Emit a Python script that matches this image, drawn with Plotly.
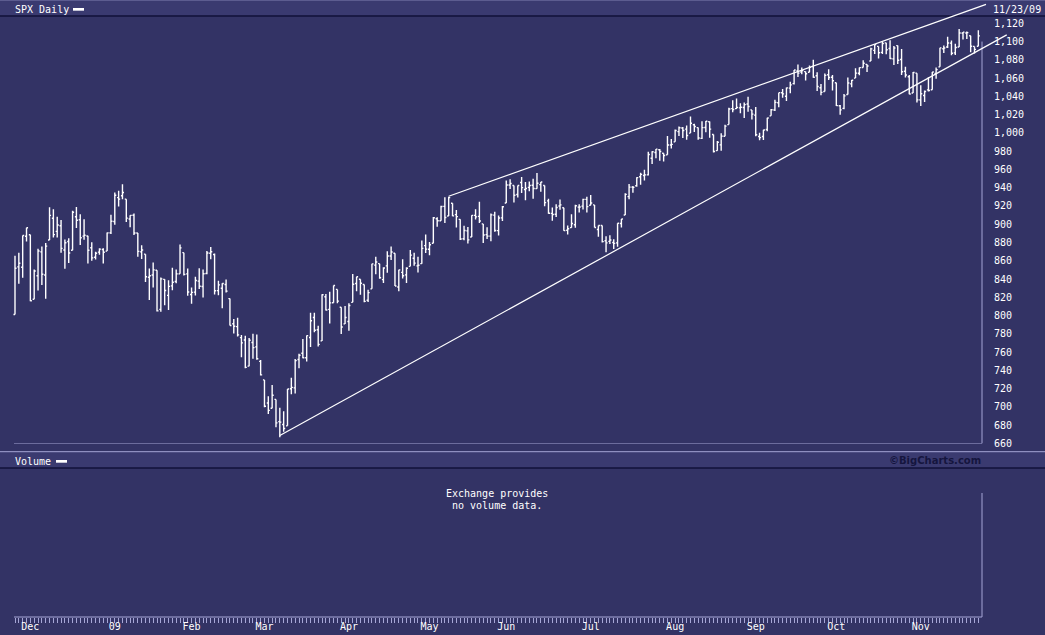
import plotly.graph_objects as go

# SPX daily bars, Nov 24 2008 .. Nov 23 2009
dates = [
    "2008-11-24", "2008-11-25", "2008-11-26", "2008-11-28",
    "2008-12-01", "2008-12-02", "2008-12-03", "2008-12-04", "2008-12-05", "2008-12-08", "2008-12-09",
    "2008-12-10", "2008-12-11", "2008-12-12", "2008-12-15", "2008-12-16", "2008-12-17", "2008-12-18",
    "2008-12-19", "2008-12-22", "2008-12-23", "2008-12-24", "2008-12-26", "2008-12-29", "2008-12-30",
    "2008-12-31",
    "2009-01-02", "2009-01-05", "2009-01-06", "2009-01-07", "2009-01-08", "2009-01-09", "2009-01-12",
    "2009-01-13", "2009-01-14", "2009-01-15", "2009-01-16", "2009-01-20", "2009-01-21", "2009-01-22",
    "2009-01-23", "2009-01-26", "2009-01-27", "2009-01-28", "2009-01-29", "2009-01-30",
    "2009-02-02", "2009-02-03", "2009-02-04", "2009-02-05", "2009-02-06", "2009-02-09", "2009-02-10",
    "2009-02-11", "2009-02-12", "2009-02-13", "2009-02-17", "2009-02-18", "2009-02-19", "2009-02-20",
    "2009-02-23", "2009-02-24", "2009-02-25", "2009-02-26", "2009-02-27",
    "2009-03-02", "2009-03-03", "2009-03-04", "2009-03-05", "2009-03-06", "2009-03-09", "2009-03-10",
    "2009-03-11", "2009-03-12", "2009-03-13", "2009-03-16", "2009-03-17", "2009-03-18", "2009-03-19",
    "2009-03-20", "2009-03-23", "2009-03-24", "2009-03-25", "2009-03-26", "2009-03-27", "2009-03-30",
    "2009-03-31",
    "2009-04-01", "2009-04-02", "2009-04-03", "2009-04-06", "2009-04-07", "2009-04-08", "2009-04-09",
    "2009-04-13", "2009-04-14", "2009-04-15", "2009-04-16", "2009-04-17", "2009-04-20", "2009-04-21",
    "2009-04-22", "2009-04-23", "2009-04-24", "2009-04-27", "2009-04-28", "2009-04-29", "2009-04-30",
    "2009-05-01", "2009-05-04", "2009-05-05", "2009-05-06", "2009-05-07", "2009-05-08", "2009-05-11",
    "2009-05-12", "2009-05-13", "2009-05-14", "2009-05-15", "2009-05-18", "2009-05-19", "2009-05-20",
    "2009-05-21", "2009-05-22", "2009-05-26", "2009-05-27", "2009-05-28", "2009-05-29",
    "2009-06-01", "2009-06-02", "2009-06-03", "2009-06-04", "2009-06-05", "2009-06-08", "2009-06-09",
    "2009-06-10", "2009-06-11", "2009-06-12", "2009-06-15", "2009-06-16", "2009-06-17", "2009-06-18",
    "2009-06-19", "2009-06-22", "2009-06-23", "2009-06-24", "2009-06-25", "2009-06-26", "2009-06-29",
    "2009-06-30",
    "2009-07-01", "2009-07-02", "2009-07-06", "2009-07-07", "2009-07-08", "2009-07-09", "2009-07-10",
    "2009-07-13", "2009-07-14", "2009-07-15", "2009-07-16", "2009-07-17", "2009-07-20", "2009-07-21",
    "2009-07-22", "2009-07-23", "2009-07-24", "2009-07-27", "2009-07-28", "2009-07-29", "2009-07-30",
    "2009-07-31",
    "2009-08-03", "2009-08-04", "2009-08-05", "2009-08-06", "2009-08-07", "2009-08-10", "2009-08-11",
    "2009-08-12", "2009-08-13", "2009-08-14", "2009-08-17", "2009-08-18", "2009-08-19", "2009-08-20",
    "2009-08-21", "2009-08-24", "2009-08-25", "2009-08-26", "2009-08-27", "2009-08-28", "2009-08-31",
    "2009-09-01", "2009-09-02", "2009-09-03", "2009-09-04", "2009-09-08", "2009-09-09", "2009-09-10",
    "2009-09-11", "2009-09-14", "2009-09-15", "2009-09-16", "2009-09-17", "2009-09-18", "2009-09-21",
    "2009-09-22", "2009-09-23", "2009-09-24", "2009-09-25", "2009-09-28", "2009-09-29", "2009-09-30",
    "2009-10-01", "2009-10-02", "2009-10-05", "2009-10-06", "2009-10-07", "2009-10-08", "2009-10-09",
    "2009-10-12", "2009-10-13", "2009-10-14", "2009-10-15", "2009-10-16", "2009-10-19", "2009-10-20",
    "2009-10-21", "2009-10-22", "2009-10-23", "2009-10-26", "2009-10-27", "2009-10-28", "2009-10-29",
    "2009-10-30",
    "2009-11-02", "2009-11-03", "2009-11-04", "2009-11-05", "2009-11-06", "2009-11-09", "2009-11-10",
    "2009-11-11", "2009-11-12", "2009-11-13", "2009-11-16", "2009-11-17", "2009-11-18", "2009-11-19",
    "2009-11-20", "2009-11-23",
]

opens = [
    801.2, 853.4, 852.9, 886.9,
    888.6, 817.9, 843.6, 869.8, 844.4, 882.7, 906.5, 892.2, 898.4, 871.8, 881.1, 871.5, 908.2, 905.0,
    887.0, 887.2, 874.3, 863.9, 869.5, 872.4, 870.6, 890.6,
    903.0, 929.2, 931.2, 927.5, 905.7, 909.9, 890.4, 869.8, 867.3, 842.0, 844.5, 849.6, 806.8, 839.7,
    822.2, 832.5, 837.3, 845.7, 868.9, 845.7,
    823.1, 825.7, 837.8, 831.8, 846.1, 868.2, 866.9, 827.4, 829.9, 834.0, 818.6, 791.1, 787.9, 775.9,
    773.3, 744.7, 770.6, 765.8, 749.9,
    729.6, 704.4, 698.6, 708.3, 684.0, 680.8, 679.3, 720.0, 720.9, 752.0, 758.8, 753.9, 776.0, 797.9,
    784.6, 772.3, 820.6, 806.8, 814.1, 828.7, 809.1, 790.9,
    793.6, 814.5, 835.1, 839.8, 834.1, 816.8, 829.3, 855.3, 856.9, 839.4, 854.5, 865.2, 868.3, 831.3,
    847.3, 844.6, 853.9, 862.8, 854.5, 856.9, 876.6,
    872.7, 879.2, 906.1, 903.8, 919.6, 909.0, 923.0, 910.5, 905.4, 884.2, 892.8, 886.1, 909.7, 908.6,
    900.4, 888.7, 887.0, 910.0, 893.0, 907.0,
    923.3, 942.9, 942.5, 932.5, 945.7, 938.1, 940.4, 942.7, 939.0, 943.4, 942.5, 925.6, 911.9, 910.9,
    920.0, 918.1, 893.5, 896.3, 899.5, 918.8, 919.9, 927.2,
    920.8, 921.2, 894.3, 898.6, 881.9, 881.3, 880.0, 879.6, 900.8, 910.2, 930.2, 940.6, 942.1, 952.0,
    953.4, 954.1, 972.2, 978.6, 981.5, 977.7, 976.0, 986.8,
    990.2, 1001.4, 1005.4, 1004.1, 999.8, 1008.9, 1005.8, 994.0, 1005.9, 1012.2, 998.2, 980.6, 986.9,
    996.4, 1009.1, 1026.6, 1026.6, 1027.4, 1027.8, 1031.6, 1025.2,
    1019.5, 996.1, 996.1, 1003.8, 1018.7, 1025.1, 1033.0, 1043.9, 1040.2, 1049.0, 1054.0, 1067.9,
    1066.6, 1067.1, 1066.4, 1072.7, 1062.6, 1049.5, 1045.4, 1063.7, 1061.0,
    1054.9, 1029.7, 1026.9, 1042.0, 1053.7, 1060.0, 1065.3, 1071.6, 1075.0, 1078.7, 1090.4, 1094.7,
    1088.2, 1098.6, 1092.4, 1081.0, 1095.6, 1080.4, 1067.5, 1061.5, 1043.7, 1065.4,
    1036.2, 1040.9, 1047.1, 1047.3, 1065.0, 1072.3, 1092.2, 1094.0, 1098.3, 1087.6, 1094.1, 1109.2,
    1109.4, 1106.4, 1094.7, 1094.9,
]

highs = [
    865.6, 868.9, 887.7, 896.3,
    888.6, 850.5, 873.1, 875.6, 879.4, 918.6, 916.3, 908.3, 904.6, 883.2, 884.6, 914.7, 918.9, 911.0,
    905.5, 887.4, 880.4, 869.8, 873.7, 873.7, 891.1, 910.3,
    934.7, 936.6, 943.9, 927.5, 910.0, 911.9, 890.4, 877.0, 867.3, 851.6, 858.1, 849.6, 841.7, 839.7,
    838.6, 852.5, 850.5, 877.9, 868.9, 851.7,
    830.8, 842.6, 851.9, 850.6, 870.8, 875.0, 868.1, 838.2, 835.5, 839.4, 818.6, 796.2, 797.6, 778.7,
    777.9, 775.5, 780.1, 779.4, 751.3,
    729.6, 711.7, 724.1, 708.3, 699.1, 695.3, 719.6, 731.9, 752.6, 758.3, 774.5, 778.1, 803.0, 803.2,
    788.9, 823.4, 823.6, 826.1, 833.0, 828.7, 809.1, 810.5,
    813.6, 845.6, 842.5, 839.8, 834.1, 828.4, 856.9, 864.3, 856.9, 852.9, 870.4, 875.6, 868.3, 850.1,
    861.8, 852.9, 871.8, 868.8, 864.5, 882.1, 888.7,
    880.5, 907.9, 907.7, 920.3, 929.6, 930.2, 923.0, 915.6, 905.4, 898.4, 897.0, 910.0, 916.4, 924.6,
    900.4, 896.7, 911.8, 913.8, 909.5, 920.0,
    947.8, 949.4, 942.5, 942.5, 951.7, 946.3, 946.9, 949.8, 956.2, 946.3, 942.5, 928.0, 918.4, 921.9,
    927.1, 918.1, 898.7, 910.9, 921.4, 922.0, 928.0, 930.0,
    931.9, 921.2, 898.7, 898.6, 886.8, 887.9, 883.6, 901.1, 905.8, 934.0, 944.0, 941.9, 951.6, 956.5,
    959.8, 979.4, 979.8, 982.5, 982.4, 977.8, 996.7, 993.2,
    1003.6, 1007.1, 1006.6, 1008.0, 1018.0, 1010.1, 1005.8, 1012.8, 1013.1, 1012.6, 998.2, 991.2, 999.6,
    1008.9, 1027.6, 1035.8, 1037.8, 1032.5, 1033.3, 1039.5, 1025.2,
    1028.5, 1000.3, 1003.4, 1016.5, 1026.1, 1036.3, 1044.1, 1048.2, 1049.7, 1056.0, 1068.8, 1074.8,
    1071.5, 1067.3, 1073.8, 1080.2, 1066.3, 1053.5, 1065.1, 1069.6, 1063.4,
    1054.9, 1030.6, 1042.6, 1060.6, 1058.0, 1070.7, 1071.5, 1079.5, 1075.3, 1093.2, 1096.6, 1094.7,
    1100.2, 1098.6, 1101.4, 1095.2, 1095.8, 1091.8, 1072.5, 1063.3, 1066.8, 1065.4,
    1052.2, 1046.4, 1061.0, 1066.7, 1071.5, 1093.2, 1095.8, 1105.4, 1101.3, 1097.6, 1113.7, 1110.5,
    1111.1, 1106.4, 1094.7, 1112.4,
]

lows = [
    801.2, 835.0, 841.4, 881.2,
    815.7, 817.9, 827.6, 833.6, 818.4, 882.7, 885.4, 885.5, 868.7, 851.4, 857.7, 871.5, 895.9, 877.4,
    883.0, 857.1, 860.1, 861.4, 866.5, 857.1, 870.6, 889.4,
    899.4, 919.5, 927.3, 902.4, 896.8, 888.3, 864.3, 862.0, 836.9, 817.0, 830.7, 804.5, 804.3, 811.3,
    806.1, 827.7, 835.4, 845.7, 844.0, 821.7,
    812.9, 822.0, 829.2, 819.9, 845.4, 861.7, 823.0, 822.3, 808.1, 825.2, 789.1, 780.4, 777.0, 754.3,
    742.4, 744.7, 752.9, 751.8, 734.5,
    699.7, 692.3, 698.6, 677.9, 666.8, 672.9, 679.3, 713.9, 714.8, 742.5, 753.4, 749.9, 765.6, 781.8,
    766.2, 772.3, 805.5, 791.4, 814.1, 813.4, 779.8, 790.9,
    783.3, 814.5, 826.7, 822.8, 814.5, 814.8, 829.3, 845.4, 840.3, 835.6, 847.0, 860.9, 832.4, 826.8,
    840.6, 835.6, 853.9, 854.7, 847.1, 856.9, 868.5,
    866.1, 879.2, 897.3, 903.8, 901.4, 909.0, 908.7, 896.5, 882.8, 882.5, 878.9, 886.1, 905.2, 901.4,
    879.6, 883.8, 881.5, 891.9, 887.6, 903.6,
    923.3, 938.5, 923.9, 929.3, 934.1, 926.4, 936.2, 928.0, 939.0, 935.7, 919.7, 911.6, 903.8, 907.9,
    915.8, 893.0, 888.9, 896.3, 896.3, 913.0, 916.2, 912.9,
    920.8, 896.4, 886.4, 879.9, 869.3, 878.5, 872.8, 875.3, 896.5, 910.2, 927.5, 934.5, 941.0, 943.2,
    947.8, 953.3, 966.0, 972.3, 969.4, 968.7, 976.0, 982.9,
    990.2, 996.7, 994.3, 992.5, 999.8, 1001.0, 992.4, 993.4, 1000.8, 994.6, 978.5, 980.6, 980.6,
    996.4, 1009.1, 1022.5, 1026.2, 1021.6, 1016.2, 1023.1, 1014.6,
    996.3, 992.0, 992.3, 1001.7, 1018.7, 1024.0, 1028.0, 1038.4, 1035.0, 1043.4, 1052.9, 1061.2,
    1064.3, 1057.5, 1066.4, 1060.4, 1045.9, 1041.2, 1045.4, 1057.8, 1046.5,
    1029.5, 1020.0, 1025.9, 1042.0, 1050.1, 1060.0, 1063.0, 1071.6, 1066.7, 1078.7, 1086.4, 1081.5,
    1086.5, 1086.2, 1080.8, 1074.3, 1075.5, 1063.3, 1060.6, 1042.2, 1043.7, 1033.4,
    1029.4, 1033.9, 1045.2, 1047.3, 1059.3, 1072.3, 1087.4, 1093.0, 1084.9, 1085.3, 1094.1, 1102.2,
    1102.7, 1088.4, 1086.8, 1094.9,
]

closes = [
    851.8, 857.4, 887.7, 896.2,
    816.2, 848.8, 870.7, 845.2, 876.1, 909.7, 888.7, 899.2, 873.6, 879.7, 868.6, 913.2, 904.4, 885.3,
    887.9, 871.6, 863.2, 868.2, 872.8, 869.4, 890.6, 903.3,
    931.8, 927.5, 934.7, 906.7, 909.7, 890.4, 870.3, 871.8, 842.6, 843.7, 850.1, 805.2, 840.2, 827.5,
    832.0, 836.6, 845.7, 874.1, 845.1, 825.9,
    825.4, 838.5, 832.2, 845.9, 868.6, 869.9, 827.2, 833.7, 835.2, 826.8, 789.2, 788.4, 778.9, 770.1,
    743.3, 773.1, 764.9, 752.8, 735.1,
    700.8, 696.3, 712.9, 682.6, 683.4, 676.5, 719.6, 721.4, 750.7, 756.6, 753.9, 778.1, 794.4, 784.0,
    768.5, 822.9, 806.1, 813.9, 832.9, 815.9, 787.5, 797.9,
    811.1, 834.4, 842.5, 835.5, 815.6, 825.2, 856.6, 858.7, 841.5, 852.1, 865.3, 869.6, 832.4, 850.1,
    843.6, 851.9, 866.2, 857.5, 855.2, 873.6, 872.8,
    877.5, 907.2, 903.8, 919.5, 907.4, 929.2, 909.2, 908.4, 883.9, 893.1, 882.9, 909.7, 908.1, 903.5,
    888.3, 887.0, 910.3, 893.1, 906.8, 919.1,
    942.9, 944.7, 931.8, 942.5, 940.1, 939.1, 942.4, 939.2, 944.9, 946.2, 923.7, 912.0, 910.7, 918.4,
    921.2, 893.0, 895.1, 900.9, 920.3, 918.9, 927.2, 919.3,
    923.3, 896.4, 898.7, 881.0, 879.6, 882.7, 879.1, 901.1, 905.8, 932.7, 940.7, 940.4, 951.1, 954.6,
    954.1, 976.3, 979.3, 982.2, 979.6, 975.2, 986.8, 987.5,
    1002.6, 1005.7, 1002.7, 997.1, 1010.5, 1007.1, 994.4, 1005.8, 1012.7, 1004.1, 979.7, 989.7, 996.5,
    1007.4, 1026.1, 1025.6, 1028.0, 1028.1, 1031.0, 1028.9, 1020.6,
    998.0, 994.8, 1003.2, 1016.4, 1025.4, 1033.4, 1044.1, 1042.7, 1049.3, 1052.6, 1068.8, 1065.5,
    1068.3, 1064.7, 1071.7, 1060.9, 1050.8, 1044.4, 1063.0, 1060.6, 1057.1,
    1029.9, 1025.2, 1040.5, 1054.7, 1057.6, 1065.5, 1071.5, 1076.2, 1073.2, 1092.0, 1096.6, 1087.7,
    1097.9, 1091.1, 1081.4, 1092.9, 1079.6, 1067.0, 1063.4, 1042.6, 1066.1, 1036.2,
    1042.9, 1045.4, 1046.5, 1066.6, 1069.3, 1093.1, 1093.0, 1098.5, 1087.2, 1093.5, 1109.3, 1110.3,
    1109.8, 1094.9, 1091.4, 1106.2,
]

price_ticks = list(range(660, 1121, 20))
month_labels = {"01": "09", "02": "Feb", "03": "Mar", "04": "Apr", "05": "May", "06": "Jun",
                "07": "Jul", "08": "Aug", "09": "Sep", "10": "Oct", "11": "Nov", "12": "Dec"}

# hand drawn trend lines: two anchor points (date, price) and where the line stops (bar index)
lower_trend = [("2009-03-06", 668.8), ("2009-07-08", 865.6)]
lower_trend_end = 258.4
upper_trend = [("2009-05-08", 930.7), ("2009-10-21", 1103.2)]
upper_trend_end = 253.0

W, H = 1045, 635
X0, STEP = 15.0, 3.838          # pixel of first bar, pixels per bar
BG = "#333365"
BAND = "#3a3a70"
FRAME = "#a6a6d6"
DARK = "#12123a"
FONT = "DejaVu Sans Mono"


def py(pix):
    return 1 - pix / H


def bx(pix):
    return (pix - X0) / STEP


x_range = [bx(0), bx(W)]
pos = {d: i for i, d in enumerate(dates)}

ticktext = []
for i, d in enumerate(dates):
    if i > 0 and d[5:7] != dates[i - 1][5:7]:
        ticktext.append(month_labels[d[5:7]])
    else:
        ticktext.append("")


def trend(anchor, end):
    (d0, p0), (d1, p1) = anchor
    i0, i1 = pos[d0], pos[d1]
    slope = (p1 - p0) / (i1 - i0)
    return dict(type="line", xref="x", yref="y", x0=i0, y0=p0, x1=end, y1=p0 + slope * (end - i0),
                line=dict(color="white", width=1.2), layer="above")


fig = go.Figure()
fig.add_trace(go.Ohlc(
    x=dates, open=opens, high=highs, low=lows, close=closes,
    increasing_line_color="white", decreasing_line_color="white",
    line_width=1.4, tickwidth=0.4, showlegend=False, hoverinfo="skip",
    xaxis="x", yaxis="y",
))
# empty volume panel (no data from the exchange)
fig.add_trace(go.Scatter(x=dates, y=[0.5] * len(dates), mode="none", showlegend=False,
                         hoverinfo="skip", xaxis="x2", yaxis="y2"))

shapes = [
    # header band
    dict(type="rect", xref="paper", yref="paper", x0=0, x1=1, y0=py(15.5), y1=1,
         fillcolor=BAND, line_width=0, layer="below"),
    dict(type="line", xref="paper", yref="paper", x0=0, x1=1, y0=py(0.5), y1=py(0.5),
         line=dict(color="#5c5c90", width=1)),
    dict(type="line", xref="paper", yref="paper", x0=0, x1=1, y0=py(16), y1=py(16),
         line=dict(color=DARK, width=1.5)),
    # band between the panels
    dict(type="rect", xref="paper", yref="paper", x0=0, x1=1, y0=py(468), y1=py(452),
         fillcolor=BAND, line_width=0, layer="below"),
    dict(type="line", xref="paper", yref="paper", x0=0, x1=1, y0=py(451.7), y1=py(451.7),
         line=dict(color=FRAME, width=1)),
    dict(type="line", xref="paper", yref="paper", x0=0, x1=1, y0=py(468), y1=py(468),
         line=dict(color=DARK, width=1.5)),
    # price panel frame
    dict(type="line", xref="x", yref="y", x0=bx(14), x1=bx(982), y0=660, y1=660,
         line=dict(color=FRAME, width=1)),
    dict(type="line", xref="x", yref="y", x0=bx(982), x1=bx(982), y0=660, y1=1100,
         line=dict(color=FRAME, width=1)),
    # volume panel frame / ruler
    dict(type="line", xref="paper", yref="paper", x0=982 / W, x1=982 / W, y0=py(617), y1=py(493),
         line=dict(color=FRAME, width=1)),
    dict(type="line", xref="paper", yref="paper", x0=14 / W, x1=982 / W, y0=py(617), y1=py(617),
         line=dict(color=FRAME, width=1)),
    # legend dashes
    dict(type="rect", xref="paper", yref="paper", x0=73 / W, x1=84 / W, y0=py(10.7), y1=py(8),
         fillcolor="white", line_width=0),
    dict(type="rect", xref="paper", yref="paper", x0=56 / W, x1=67 / W, y0=py(462.7), y1=py(460),
         fillcolor="white", line_width=0),
    trend(lower_trend, lower_trend_end),
    trend(upper_trend, upper_trend_end),
]


def label(text, x, y, anchor="left", color="white", size=10, family=FONT):
    return dict(text=text, xref="paper", yref="paper", x=x / W, y=py(y), xanchor=anchor,
                yanchor="middle", showarrow=False, font=dict(family=family, size=size, color=color))


annotations = [
    label("SPX Daily", 13, 9.5),
    label("11/23/09", 991, 9),
    label("Volume", 13, 461.5),
    label("<b>©BigCharts.com</b>", 983, 460.5, anchor="right", color="#15153e",
          family="DejaVu Sans", size=10),
    label("Exchange provides", 444, 493.5),
    label("no volume data.", 450, 505),
]

fig.update_layout(
    width=W, height=H, margin=dict(l=0, r=0, t=0, b=0),
    paper_bgcolor=BG, plot_bgcolor=BG, showlegend=False,
    font=dict(family=FONT, size=10, color="white"),
    shapes=shapes, annotations=annotations,
    xaxis=dict(type="category", domain=[0, 1], range=x_range, anchor="y",
               showticklabels=False, ticks="", showgrid=False, zeroline=False, showline=False,
               rangeslider=dict(visible=False), fixedrange=True),
    yaxis=dict(domain=[py(443.5), 1], range=[660, 1145.5], side="right", anchor="free",
               position=993 / W, tickvals=price_ticks, tickformat=",", ticks="",
               showgrid=False, zeroline=False, showline=False, automargin=False,
               tickfont=dict(family=FONT, size=10, color="white"), fixedrange=True),
    xaxis2=dict(type="category", domain=[0, 1], range=x_range, anchor="y2",
                tickmode="array", tickvals=dates, ticktext=ticktext,
                ticks="outside", ticklen=5, tickwidth=1, tickcolor=FRAME, ticklabelstandoff=-5,
                showgrid=False, zeroline=False, showline=False, automargin=False,
                tickfont=dict(family=FONT, size=10, color="white"), fixedrange=True),
    yaxis2=dict(domain=[py(617), py(468)], range=[0, 1], visible=False, fixedrange=True),
)

# the page itself adds an 8px body margin; drop it so the chart fills the window
fig.write_html("out.html", config={"displayModeBar": False},
               post_script="document.body.style.margin='0';document.body.style.overflow='hidden';")
